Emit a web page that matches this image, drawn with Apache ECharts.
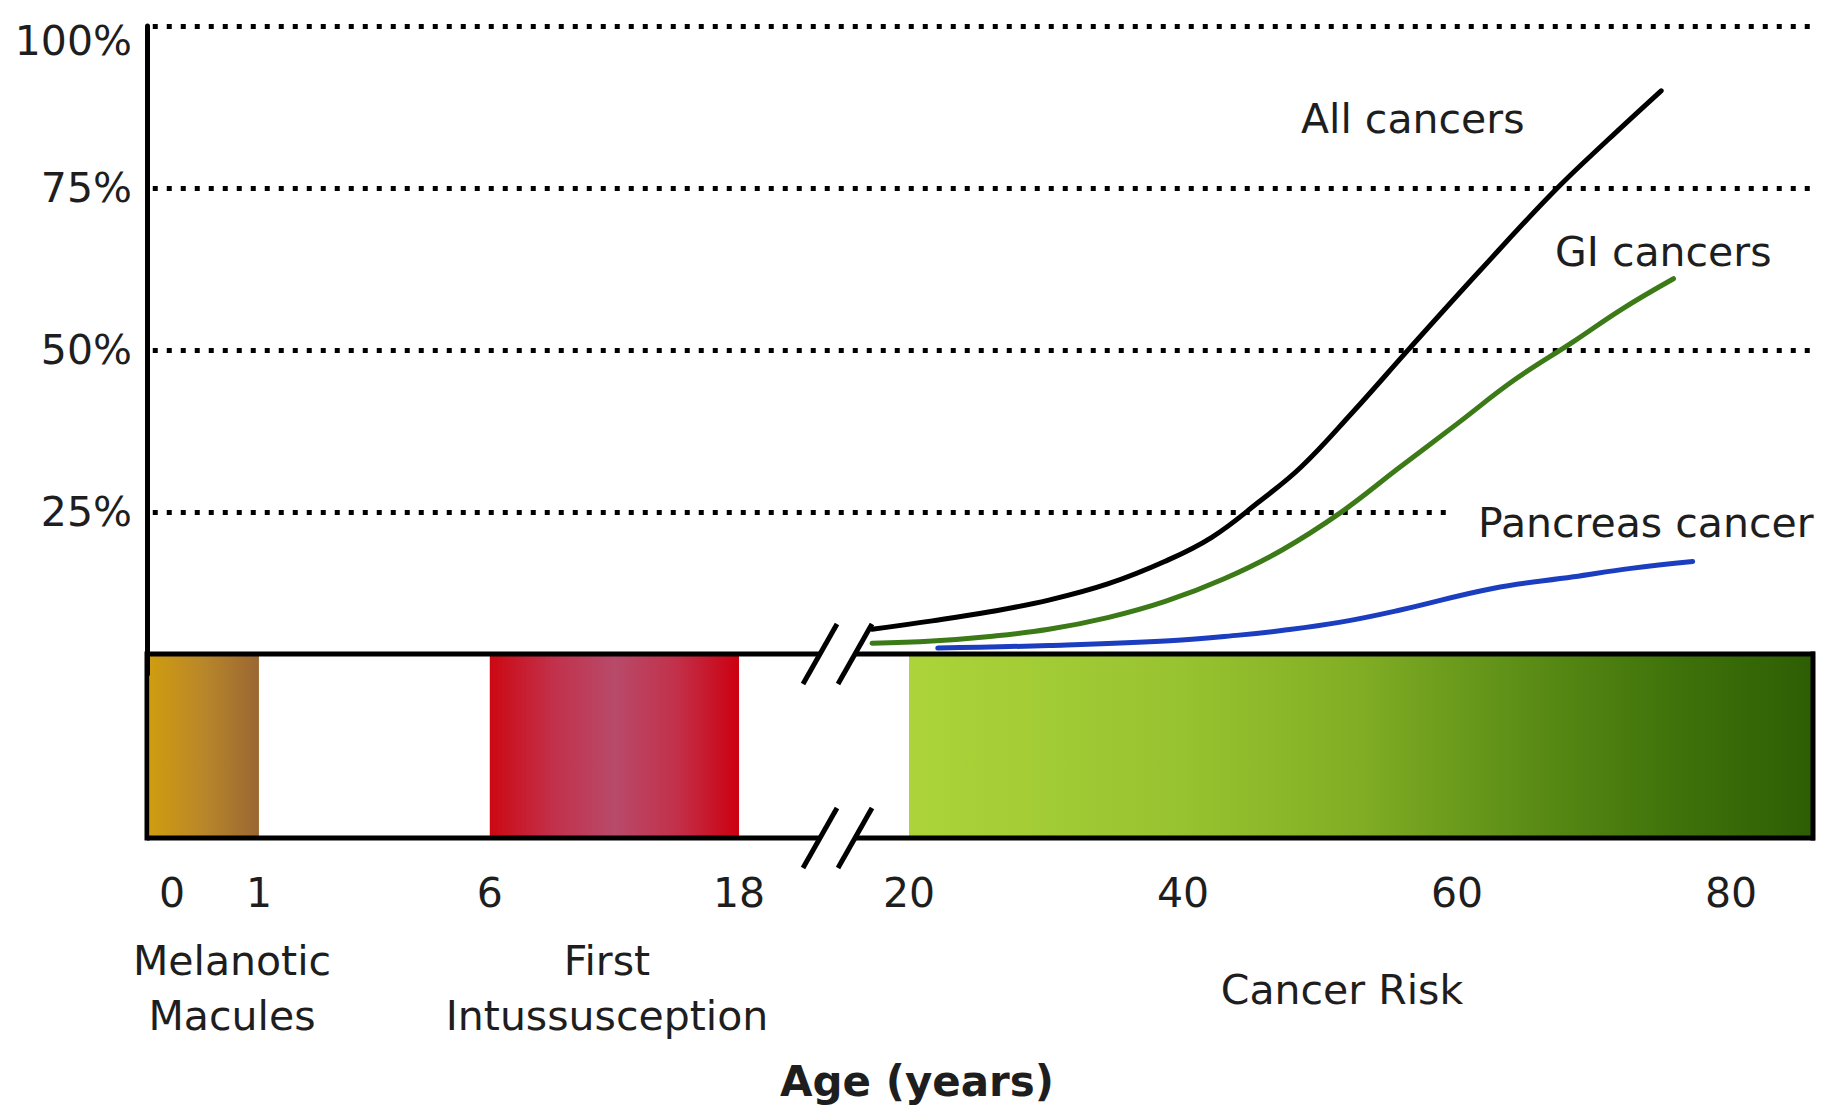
<!DOCTYPE html>
<html><head><meta charset="utf-8">
<script src="https://cdn.jsdelivr.net/npm/echarts@6/dist/echarts.min.js"></script>
<style>html,body{margin:0;padding:0;background:#fff;}#c{width:1827px;height:1109px;}</style>
</head><body><div id="c"></div>
<script>
// ---------------- data ----------------
const tickAges = [0, 1, 6, 18, 20, 40, 60, 80];
const yTicks = [25, 50, 75, 100];
const phaseNames = ['Melanotic\nMacules', 'First\nIntussusception', 'Cancer Risk'];
const phaseStart = [0, 6, 20];
const phaseEnd = [1, 18, 86];
const seriesNames = ['All cancers', 'GI cancers', 'Pancreas cancer'];
const allAges = [17.3, 21.7, 25.9, 30.2, 34.5, 38.7, 42.1, 45.5, 48.6, 52.3, 56.6, 61.7, 67.0, 71.0, 74.9];
const allRisk = [6.9, 8.2, 9.6, 11.4, 13.9, 17.4, 21.1, 26.5, 31.9, 40.2, 50.4, 62.3, 74.3, 82.4, 90.0];
const giAges = [17.3, 21.7, 25.9, 30.2, 34.5, 38.7, 43.0, 47.2, 51.5, 55.7, 60.0, 64.2, 68.5, 72.1, 75.8];
const giRisk = [4.75, 5.1, 5.8, 6.9, 8.7, 11.2, 14.7, 19.1, 24.9, 31.7, 38.6, 45.4, 51.3, 56.4, 61.0];
const panAges = [22.1, 30.2, 38.7, 44.1, 47.2, 51.5, 55.7, 62.6, 68.5, 72.7, 77.2];
const panRisk = [4.0, 4.4, 5.1, 6.0, 6.7, 8.0, 9.8, 13.2, 15.0, 16.3, 17.35];

// ---------------- layout / style ----------------
const FONT = 'DejaVu Sans';
const TXT = '#1e1e1e';
const FS = 41;
const X_MIN = -35.62, X_MAX = 86.13;           // broken axis extent (right section in years)
const leftAnchorAges = [0, 1, 6, 18];          // childhood section is drawn compressed
const leftAnchorPos = [-35.4, -27.45, -10.6, 7.59];
const BREAK_POS = 14.78;
const DOT_START = -35.2;
const dotEnd = [59.5, X_MAX, X_MAX, X_MAX];
const lineColors = ['#000000', '#3c7a18', '#1b3ec0'];
const phaseGradients = [
  [['#cf9c10', 0], ['#b8862a', 0.5], ['#9a6733', 1]],
  [['#cc0812', 0], ['#c2304a', 0.25], ['#b84a6a', 0.5], ['#c2304a', 0.75], ['#cc0010', 1]],
  [['#acd43a', 0], ['#98c330', 0.3], ['#80ad24', 0.5], ['#588a15', 0.7], ['#3f720a', 0.85], ['#2e5e04', 1]]
];

function pos(age) {
  if (age >= 19) return age;
  for (let i = 0; i < leftAnchorAges.length - 1; i++) {
    const a0 = leftAnchorAges[i], a1 = leftAnchorAges[i + 1];
    if (age <= a1) {
      const t = (age - a0) / (a1 - a0);
      return leftAnchorPos[i] + t * (leftAnchorPos[i + 1] - leftAnchorPos[i]);
    }
  }
  return age;
}
const zip = (a, b) => a.map((v, i) => [v, b[i]]);
const tickPos = tickAges.map(pos);

const chart = echarts.init(document.getElementById('c'), null, {renderer: 'svg', width: 1827, height: 1109});

function lineSeries(i, ages, vals) {
  return {
    type: 'line', name: seriesNames[i], xAxisIndex: 0, yAxisIndex: 0,
    data: zip(ages, vals), smooth: 0.4, symbol: 'none', z: 5,
    lineStyle: {color: lineColors[i], width: 5, cap: 'round'}
  };
}
const s0 = lineSeries(0, allAges, allRisk);
s0.markLine = {
  silent: true, symbol: 'none', label: {show: false}, animation: false,
  lineStyle: {type: [5, 9], width: 5, color: '#000', cap: 'butt'},
  data: yTicks.map((t, i) => [{coord: [DOT_START, t]}, {coord: [dotEnd[i], t]}])
};

const option = {
  animation: false,
  backgroundColor: '#fff',
  textStyle: {fontFamily: FONT},
  grid: [
    {left: 147, right: 12, top: 26, bottom: 435},
    {left: 147, right: 12, top: 654, bottom: 271}
  ],
  xAxis: [
    {type: 'value', gridIndex: 0, min: X_MIN, max: X_MAX, show: false},
    {type: 'value', gridIndex: 1, min: X_MIN, max: X_MAX,
     axisLine: {show: false}, axisTick: {show: false}, splitLine: {show: false},
     axisLabel: {
       customValues: tickPos, margin: 34, fontSize: FS, fontFamily: FONT, color: TXT,
       formatter: function (v) {
         let best = 0;
         tickPos.forEach((p, i) => { if (Math.abs(p - v) < Math.abs(tickPos[best] - v)) best = i; });
         const lab = String(tickAges[best]);
         return best === 0 ? '{s|' + lab + '}' : lab;
       },
       rich: {s: {padding: [0, 0, 0, 44], fontSize: FS, fontFamily: FONT, color: TXT}}
     }}
  ],
  yAxis: [
    {type: 'value', gridIndex: 0, min: 0, max: 100, interval: 25,
     axisLine: {show: true, onZero: false, lineStyle: {color: '#000', width: 5}},
     axisTick: {show: false}, splitLine: {show: false},
     axisLabel: {
       customValues: yTicks, margin: 15, fontSize: FS, fontFamily: FONT, color: TXT,
       formatter: v => v === 0 ? '' : (v === 100 ? '{t|100%}' : v + '%'),
       rich: {t: {padding: [30, 0, 0, 0], fontSize: FS, fontFamily: FONT, color: TXT}}
     }},
    {type: 'value', gridIndex: 1, min: 0, max: 1, show: false}
  ],
  series: [
    s0,
    lineSeries(1, giAges, giRisk),
    lineSeries(2, panAges, panRisk),
    {
      type: 'custom', name: 'phases', xAxisIndex: 1, yAxisIndex: 1, z: 2, clip: false,
      data: phaseStart.map((s, i) => [pos(s), pos(phaseEnd[i]), i]),
      encode: {x: [0, 1]},
      renderItem: function (params, api) {
        const a = api.coord([api.value(0), 1]);
        const b = api.coord([api.value(1), 0]);
        const idx = api.value(2);
        return {
          type: 'rect',
          shape: {x: a[0], y: a[1] + 2, width: b[0] - a[0], height: b[1] - a[1] - 4},
          style: {fill: new echarts.graphic.LinearGradient(0, 0, 1, 0,
            phaseGradients[idx].map(s => ({offset: s[1], color: s[0]})))}
        };
      }
    },
    {
      type: 'custom', name: 'frame', xAxisIndex: 1, yAxisIndex: 1, z: 3, clip: false,
      data: [[BREAK_POS, 0]],
      renderItem: function (params, api) {
        const cs = params.coordSys;
        const x0 = cs.x, y0 = cs.y, x1 = cs.x + cs.width, y1 = cs.y + cs.height;
        const bx = api.coord([api.value(0), 0])[0];
        const g = 17.5, dx = 17, dy = 30;
        const L = (xa, ya, xb, yb) => ({type: 'line', shape: {x1: xa, y1: ya, x2: xb, y2: yb},
          style: {stroke: '#000', lineWidth: 5, fill: null}});
        const ch = [
          L(x0, y0 - 2.5, x0, y1 + 2.5), L(x1 - 2, y0 - 2.5, x1 - 2, y1 + 2.5),
          L(x0, y0, bx - g, y0), L(bx + g, y0, x1, y0),
          L(x0, y1, bx - g, y1), L(bx + g, y1, x1, y1)
        ];
        [y0, y1].forEach(yy => [-g, g].forEach(o => ch.push(L(bx + o - dx, yy + dy, bx + o + dx, yy - dy))));
        return {type: 'group', children: ch};
      }
    }
  ],
  graphic: [
    {type: 'text', x: 232, y: 988, style: {text: phaseNames[0], align: 'center', verticalAlign: 'middle', textAlign: 'center', textVerticalAlign: 'middle', lineHeight: 55, fontSize: FS, fontFamily: FONT, fill: TXT}},
    {type: 'text', x: 607, y: 988, style: {text: phaseNames[1], align: 'center', verticalAlign: 'middle', textAlign: 'center', textVerticalAlign: 'middle', lineHeight: 55, fontSize: FS, fontFamily: FONT, fill: TXT}},
    {type: 'text', x: 1342, y: 990, style: {text: phaseNames[2], align: 'center', verticalAlign: 'middle', textAlign: 'center', textVerticalAlign: 'middle', fontSize: FS, fontFamily: FONT, fill: TXT}},
    {type: 'text', x: 917, y: 1081, style: {text: 'Age (years)', align: 'center', verticalAlign: 'middle', textAlign: 'center', textVerticalAlign: 'middle', fontSize: 42, fontWeight: 'bold', fontFamily: FONT, fill: TXT}},
    {type: 'text', x: 1301, y: 119, style: {text: seriesNames[0], align: 'left', verticalAlign: 'middle', textAlign: 'left', textVerticalAlign: 'middle', fontSize: FS, fontFamily: FONT, fill: TXT}},
    {type: 'text', x: 1555, y: 252, style: {text: seriesNames[1], align: 'left', verticalAlign: 'middle', textAlign: 'left', textVerticalAlign: 'middle', fontSize: FS, fontFamily: FONT, fill: TXT}},
    {type: 'text', x: 1478, y: 523, style: {text: seriesNames[2], align: 'left', verticalAlign: 'middle', textAlign: 'left', textVerticalAlign: 'middle', fontSize: FS, fontFamily: FONT, fill: TXT}}
  ]
};
chart.setOption(option);
</script>
</body></html>
